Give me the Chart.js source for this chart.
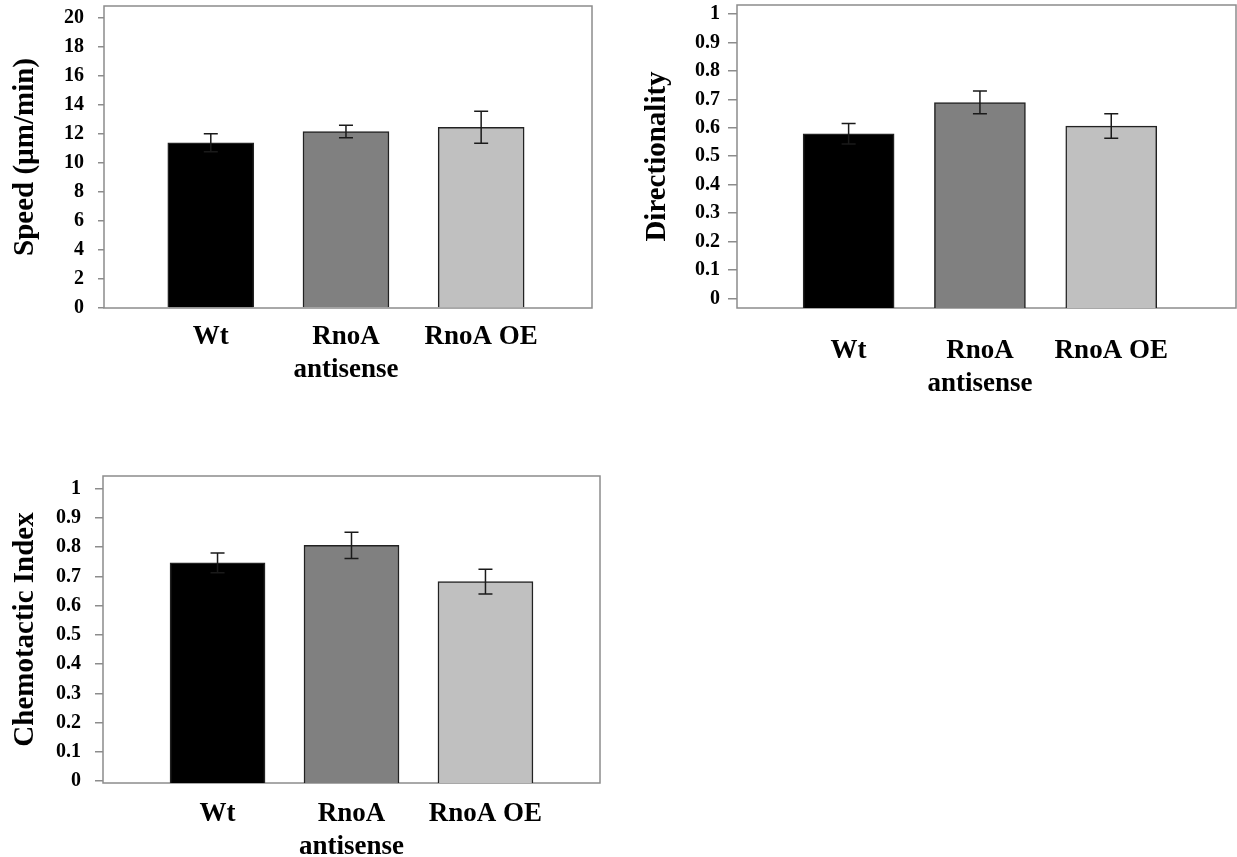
<!DOCTYPE html>
<html>
<head>
<meta charset="utf-8">
<script src="https://cdn.jsdelivr.net/npm/chart.js@4.4.0/dist/chart.umd.min.js"></script>
<style>
  body { margin: 0; background: #fff; width: 1237px; height: 857px; position: relative; overflow: hidden; }
  canvas { position: absolute; }
</style>
</head>
<body>
<canvas id="speedChart" width="600" height="400" style="left:0;top:0"></canvas>
<canvas id="directionChart" width="617" height="400" style="left:620px;top:0"></canvas>
<canvas id="chemotaxisChart" width="620" height="417" style="left:0;top:440px"></canvas>
<script>
const categories = ['Wt', ['RnoA', 'antisense'], 'RnoA OE'];
const barColors = ['#000000', '#808080', '#c0c0c0'];

const speedValues = [11.38, 12.15, 12.45];
const speedErrors = [0.62, 0.43, 1.1];
const speedTicks = [0, 2, 4, 6, 8, 10, 12, 14, 16, 18, 20];

const directionalityValues = [0.579, 0.689, 0.606];
const directionalityErrors = [0.036, 0.04, 0.043];

const chemotaxisValues = [0.746, 0.806, 0.682];
const chemotaxisErrors = [0.034, 0.045, 0.042];

const indexTicks = [0, 0.1, 0.2, 0.3, 0.4, 0.5, 0.6, 0.7, 0.8, 0.9, 1];

const serif = "'Liberation Serif', 'Times New Roman', serif";

// grey frame round the plot area, like the excel plot box
const boxPlugin = {
    id: 'plotBox',
    beforeDatasetsDraw(chart) {
        const a = chart.chartArea;
        const ctx = chart.ctx;
        ctx.save();
        ctx.strokeStyle = '#8c8c8c';
        ctx.lineWidth = 1.5;
        ctx.strokeRect(a.left, a.top, a.right - a.left, a.bottom - a.top);
        ctx.restore();
    }
};

const errorBarPlugin = {
    id: 'errorBars',
    afterDatasetsDraw(chart, args, opts) {
        const ctx = chart.ctx;
        const yScale = chart.scales.y;
        const meta = chart.getDatasetMeta(0);
        ctx.save();
        ctx.strokeStyle = '#1a1a1a';
        ctx.lineWidth = 1.5;
        meta.data.forEach((bar, i) => {
            const v = chart.data.datasets[0].data[i].y;
            const e = opts.errors[i];
            const top = yScale.getPixelForValue(v + e);
            const bottom = yScale.getPixelForValue(v - e);
            ctx.beginPath();
            ctx.moveTo(bar.x, top);
            ctx.lineTo(bar.x, bottom);
            ctx.moveTo(bar.x - 7, top);
            ctx.lineTo(bar.x + 7, top);
            ctx.moveTo(bar.x - 7, bottom);
            ctx.lineTo(bar.x + 7, bottom);
            ctx.stroke();
        });
        ctx.restore();
    }
};

function makeChart(id, values, errors, cfg) {
    const ctx = document.getElementById(id).getContext('2d');
    return new Chart(ctx, {
        type: 'bar',
        data: {
            datasets: [{
                data: values.map((v, i) => ({ x: i + 1, y: v })),
                backgroundColor: barColors,
                borderColor: '#222222',
                borderWidth: 1.5,
                barThickness: cfg.barThickness,
                base: cfg.yMin
            }]
        },
        options: {
            responsive: false,
            animation: false,
            layout: { padding: cfg.padding },
            plugins: {
                legend: { display: false },
                tooltip: { enabled: false },
                errorBars: { errors: errors }
            },
            scales: {
                x: {
                    type: 'linear',
                    offset: false,
                    min: cfg.xMin,
                    max: cfg.xMax,
                    grid: { display: false },
                    border: { display: false },
                    afterBuildTicks: (scale) => { scale.ticks = categories.map((c, i) => ({ value: i + 1 })); },
                    afterFit: (scale) => {
                        scale.height = cfg.xHeight;
                        scale.paddingLeft = 0;
                        scale.paddingRight = 0;
                    },
                    ticks: {
                        autoSkip: false,
                        maxRotation: 0,
                        padding: cfg.labelPad,
                        color: '#000',
                        font: { family: serif, size: 27, weight: 'bold', lineHeight: 1.22 },
                        callback: (v) => categories[Math.round(v) - 1]
                    }
                },
                y: {
                    min: cfg.yMin,
                    max: cfg.yMax,
                    grid: { drawOnChartArea: false, drawTicks: true, tickLength: cfg.tickLength, color: '#8c8c8c', lineWidth: 1.5 },
                    border: { display: false },
                    afterBuildTicks: (scale) => { scale.ticks = cfg.ticks.map(v => ({ value: v })); },
                    afterFit: (scale) => {
                        scale.width = cfg.yWidth;
                        scale.paddingTop = 0;
                        scale.paddingBottom = 0;
                    },
                    ticks: {
                        padding: cfg.tickPad,
                        color: '#000',
                        font: { family: serif, size: 20, weight: 'bold' },
                        callback: (v) => String(v)
                    },
                    title: {
                        display: true,
                        text: cfg.title,
                        color: '#000',
                        padding: { top: cfg.titlePad, bottom: 0 },
                        font: { family: serif, size: 29, weight: 'bold' }
                    }
                }
            }
        },
        plugins: [boxPlugin, errorBarPlugin]
    });
}

makeChart('speedChart', speedValues, speedErrors, {
    title: 'Speed (\u00b5m/min)',
    yMin: 0, yMax: 20.8, ticks: speedTicks,
    xMin: 0.21, xMax: 3.82, barThickness: 86,
    padding: { top: 6, right: 8, left: 0, bottom: 0 },
    yWidth: 104, xHeight: 92,
    tickLength: 6, tickPad: 14, titlePad: 8, labelPad: 5
});

makeChart('directionChart', directionalityValues, directionalityErrors, {
    title: 'Directionality',
    yMin: -0.034, yMax: 1.032, ticks: indexTicks,
    xMin: 0.15, xMax: 3.95, barThickness: 91,
    padding: { top: 5, right: 1, left: 0, bottom: 0 },
    yWidth: 117, xHeight: 92,
    tickLength: 9, tickPad: 8, titlePad: 20, labelPad: 19
});

makeChart('chemotaxisChart', chemotaxisValues, chemotaxisErrors, {
    title: 'Chemotactic Index',
    yMin: -0.006, yMax: 1.043, ticks: indexTicks,
    xMin: 0.145, xMax: 3.855, barThickness: 95,
    padding: { top: 36, right: 20, left: 0, bottom: 0 },
    yWidth: 103, xHeight: 74,
    tickLength: 8, tickPad: 14, titlePad: 8, labelPad: 7
});
</script>
</body>
</html>
